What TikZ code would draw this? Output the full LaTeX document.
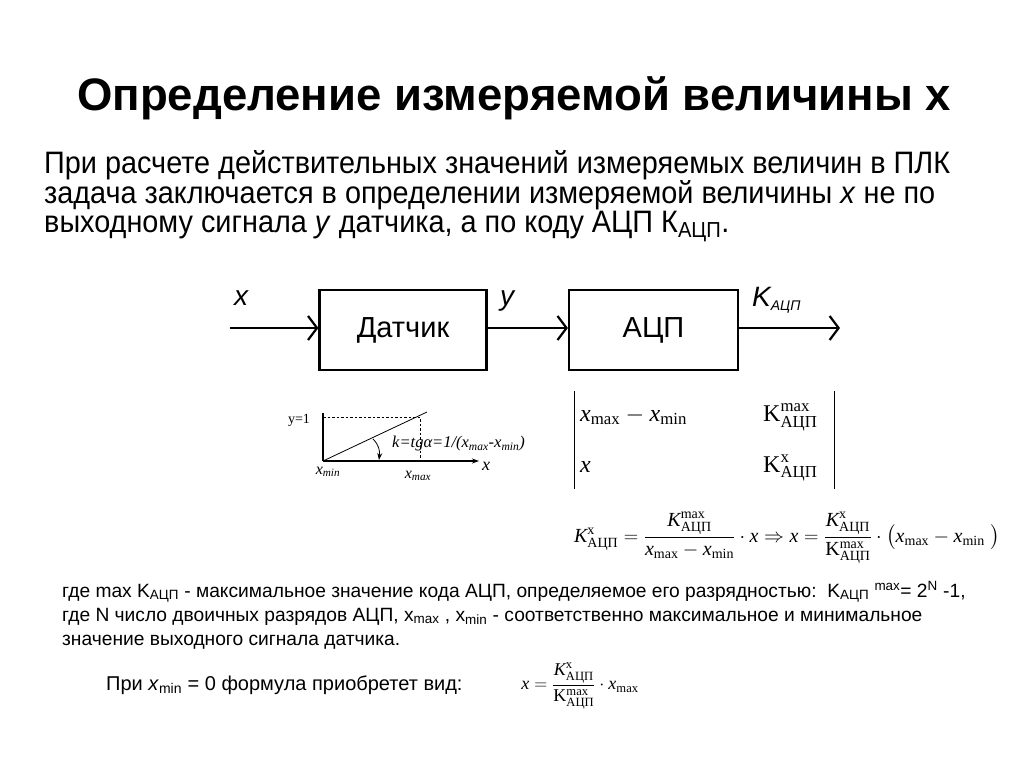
\RequirePackage{fix-cm}
\documentclass[tikz,border=0pt]{standalone}
\usepackage{amsmath}
\usepackage{fontspec}
\setmainfont{Liberation Serif}
\setsansfont{Liberation Sans}
\newfontfamily\narrow[FakeStretch=0.93]{Liberation Sans}
\newfontfamily\arial{Liberation Sans}
\usetikzlibrary{arrows.meta}
\newcommand\ix{\textit{x}}
\newcommand\Kx{\textit{K}^{\text{x}}_{\text{АЦП}}}
\newcommand\KmaxI{\textit{K}^{\text{max}}_{\text{АЦП}}}
\newcommand\Kmax{\text{K}^{\text{max}}_{\text{АЦП}}}
\newcommand\KxU{\text{K}^{\text{x}}_{\text{АЦП}}}
\newcommand\xmx{\textit{x}_{\text{max}}}
\newcommand\xmn{\textit{x}_{\text{min}}}
\tikzset{
  ttl/.style={font=\arial\bfseries\fontsize{45.5}{50}\selectfont, inner sep=0pt, anchor=base west},
  para/.style={font=\narrow\fontsize{31}{34}\selectfont, inner sep=0pt, anchor=base west},
  note/.style={font=\arial\fontsize{19.2}{22}\selectfont, inner sep=0pt, anchor=base west},
  blk/.style={draw, line width=2.2pt, font=\arial\fontsize{29}{32}\selectfont, inner sep=0pt},
  sig/.style={line width=2.2pt, -{Straight Barb[length=9pt,width=24pt]}},
  lbl/.style={font=\arial\itshape\fontsize{28}{30}\selectfont, inner sep=0pt},
  gtxt/.style={font=\fontsize{14}{16}\selectfont, inner sep=0pt},
  mtx/.style={font=\fontsize{24}{27}\selectfont, inner sep=0pt, anchor=base west},
  frm/.style={font=\fontsize{20}{24}\selectfont, inner sep=0pt},
}
\begin{document}
\begin{tikzpicture}[x=1pt,y=-1pt]
\useasboundingbox[fill=white] (0,0) rectangle (1024,767);
% title
\node[ttl] (title) at (77,111) {Определение измеряемой величины x};
% paragraph
\node[para] (p1) at (44,174) {При расчете действительных значений измеряемых величин в ПЛК};
\node[para] (p2) at (44,204) {задача заключается в определении измеряемой величины \textit{x} не по};
\node[para] (p3) at (44,233) {выходному сигнала \textit{y} датчика, а по коду АЦП К\textsubscript{АЦП}.};
% block diagram
\node[blk, minimum width=167pt, minimum height=80pt] (dat) at (403,330) {Датчик};
\node[blk, minimum width=169pt, minimum height=80pt] (adc) at (653.5,330) {АЦП};
\coordinate (in) at (230,328);
\coordinate (out) at (840,328);
\draw[sig] (in) -- (in -| dat.west);
\draw[sig] (dat.east |- in) -- (adc.west |- in);
\draw[sig] (adc.east |- in) -- (out);
\node[lbl] (lx) at (241,298) {x};
\node[lbl] (ly) at (507,301) {y};
\node[lbl, anchor=west] (lk) at (752,300) {K\raisebox{-0.15em}{\fontsize{14}{15}\selectfont АЦП}};
% small graph
\coordinate (O) at (323,461);
\coordinate (Yt) at (323,413);
\coordinate (Xe) at (479,461);
\coordinate (P) at (427,412);
\coordinate (Dy) at (323,417);
\coordinate (Dc) at (420,417);
\coordinate (Dx) at (420,461);
\coordinate (A1) at (373,439);
\coordinate (A2) at (379,460);
\draw[line width=1.3pt] (Yt) -- (O);
\draw[line width=1.3pt, -{Stealth[length=7pt,width=5pt]}] (O) -- (Xe);
\draw[line width=0.8pt] (O) -- (P);
\draw[line width=0.7pt, dash pattern=on 2.5pt off 2pt] (Dy) -- (Dc) -- (Dx);
\draw[line width=0.8pt, -{Stealth[length=7pt,width=5pt]}] (A1) .. controls (379,445) and (380,451) .. (A2);
\node[gtxt] (y1) at (299,420) {y=1};
\node[gtxt, font=\fontsize{16}{18}\selectfont] (gxmin) at (328,472) {\textit{x\textsubscript{min}}};
\node[gtxt, font=\fontsize{16}{18}\selectfont] (gxmax) at (418,476) {\textit{x\textsubscript{max}}};
\node[gtxt, font=\itshape\fontsize{18}{20}\selectfont] (gx) at (486,466) {x};
\node[gtxt, anchor=west, font=\itshape\fontsize{16.5}{18}\selectfont] (kf) at (392,444) {k=tgα=1/(x\textsubscript{max}-x\textsubscript{min})};
% matrix
\coordinate (b1t) at (574,391);
\coordinate (b1b) at (574,489);
\coordinate (b2t) at (834,391);
\coordinate (b2b) at (834,489);
\draw[line width=1pt] (b1t) -- (b1b);
\draw[line width=1pt] (b2t) -- (b2b);
\node[mtx] (m11) at (580,421) {$\xmx - \xmn$};
\node[mtx] (m12) at (763,421) {$\Kmax$};
\node[mtx] (m21) at (580,472) {$\ix$};
\node[mtx] (m22) at (763,472) {$\KxU$};
% formula 1
\node[frm] (f1) at (787,538) {$\Kx = \dfrac{\KmaxI}{\xmx - \xmn}\cdot \ix \Rightarrow \ix = \dfrac{\Kx}{\Kmax}\cdot\bigl(\xmx - \xmn\;\bigr)$};
% notes
\node[note] (n1) at (62,597) {где max K\textsubscript{АЦП} - максимальное значение кода АЦП, определяемое его разрядностью:\ \ K\textsubscript{АЦП} \textsuperscript{max}= 2\textsuperscript{N} -1,};
\node[note] (n2) at (62,621) {где N число двоичных разрядов АЦП, x\textsubscript{max} , x\textsubscript{min} - соответственно максимальное и минимальное};
\node[note] (n3) at (62,645) {значение выходного сигнала датчика.};
\node[note, font=\arial\fontsize{20}{22}\selectfont] (n4) at (106,690) {При \textit{x}\textsubscript{min} = 0 формула приобретет вид:};
\node[frm, font=\fontsize{18}{20}\selectfont] (f3) at (580,686) {$\ix = \dfrac{\Kx}{\Kmax}\cdot \xmx$};
\end{tikzpicture}
\end{document}
